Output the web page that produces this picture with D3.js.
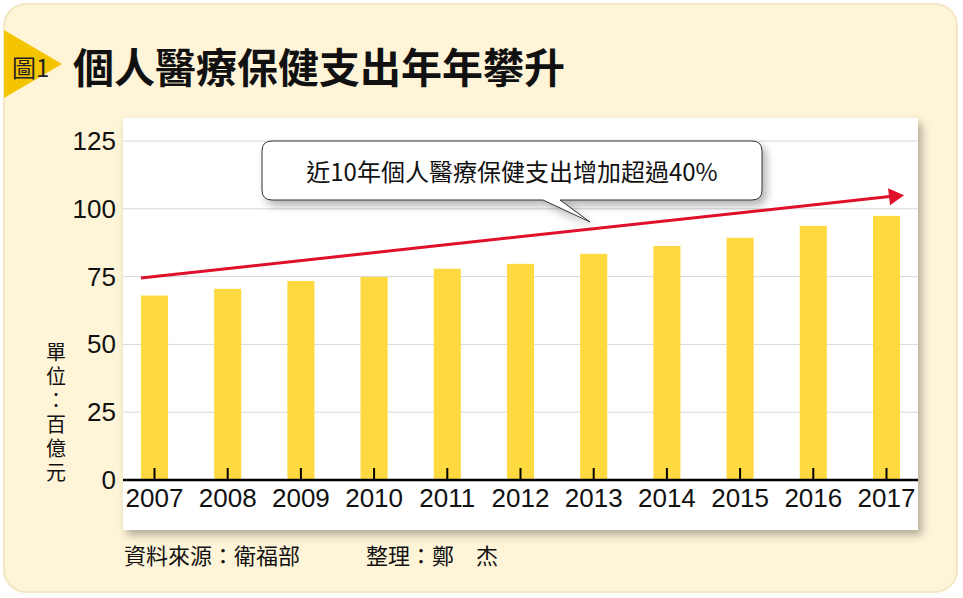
<!DOCTYPE html>
<html><head><meta charset="utf-8">
<script src="https://cdn.jsdelivr.net/npm/d3@7"></script>
<style>body{margin:0;background:#fff}svg{display:block;font-family:"Noto Sans CJK TC",sans-serif}</style>
</head><body>
<script>
var years = ["2007","2008","2009","2010","2011","2012","2013","2014","2015","2016","2017"];
var values = [68, 70.5, 73.4, 74.9, 77.9, 79.7, 83.4, 86.3, 89.3, 93.7, 97.4];
var yTicks = [0, 25, 50, 75, 100, 125];
var trendStart = 74.5, trendEnd = 105;

var svg = d3.select("body").append("svg").attr("width", 963).attr("height", 598);
var defs = svg.append("defs");
var f = defs.append("filter").attr("id", "sh").attr("x", "-10%").attr("y", "-10%").attr("width", "130%").attr("height", "140%");
f.append("feDropShadow").attr("dx", 4).attr("dy", 5).attr("stdDeviation", 4).attr("flood-color", "#000").attr("flood-opacity", 0.3);

svg.append("rect").attr("x", 4).attr("y", 4).attr("width", 953).attr("height", 588).attr("rx", 22)
  .attr("fill", "#fef4d8").attr("stroke", "#f3e6c3").attr("stroke-width", 2);
svg.append("path").attr("d", "M4,30 L62,64 L4,98 Z").attr("fill", "#f5c400");
svg.append("text").attr("x", 12).attr("y", 77).attr("font-size", 24).attr("fill", "#222").text("圖1");
svg.append("text").attr("x", 73).attr("y", 83).attr("font-size", 41).attr("font-weight", "bold").attr("fill", "#111").text("個人醫療保健支出年年攀升");

var plot = {l: 123, t: 118, r: 918, b: 530};
svg.append("rect").attr("x", plot.l).attr("y", plot.t).attr("width", plot.r - plot.l).attr("height", plot.b - plot.t)
  .attr("fill", "#fff").attr("filter", "url(#sh)");

var x = d3.scaleBand().domain(years).range([119, 922]).paddingInner(0.63).paddingOuter(0.3);
var y = d3.scaleLinear().domain([0, 125]).range([480, 141]);

svg.append("g").selectAll("line").data(yTicks.slice(1)).join("line")
  .attr("x1", plot.l).attr("x2", plot.r).attr("y1", d => y(d)).attr("y2", d => y(d))
  .attr("stroke", "#d8d8d8").attr("stroke-width", 1);

svg.append("g").selectAll("text").data(yTicks).join("text")
  .attr("x", 116).attr("y", d => y(d) + 9).attr("text-anchor", "end")
  .attr("font-size", 26).attr("font-family", "Liberation Sans Narrow, sans-serif").attr("fill", "#111").text(d => d);

svg.append("g").selectAll("rect").data(values).join("rect")
  .attr("x", (d, i) => x(years[i])).attr("width", x.bandwidth())
  .attr("y", d => y(d)).attr("height", d => y(0) - y(d)).attr("fill", "#fed940");

var xAxis = svg.append("g").attr("transform", "translate(0," + y(0) + ")")
  .call(d3.axisBottom(x).tickSizeInner(-12).tickSizeOuter(0).tickPadding(22));
xAxis.select(".domain").attr("d", "M" + plot.l + ",0H" + plot.r).attr("stroke", "#000").attr("stroke-width", 2.5);
xAxis.selectAll(".tick line").attr("stroke", "#000").attr("stroke-width", 2);
xAxis.selectAll(".tick text").attr("font-size", 26).attr("font-family", "Liberation Sans Narrow, sans-serif").attr("fill", "#111").attr("dy", "0.2em");

var ax0 = x(years[0]), ax1 = x(years[10]) + x.bandwidth() + 2;
svg.append("line").attr("x1", ax0).attr("y1", y(trendStart)).attr("x2", ax1 - 10).attr("y2", y(trendEnd) + 1.1)
  .attr("stroke", "#e0102a").attr("stroke-width", 3);
svg.append("path").attr("d", "M" + (ax1 - 14) + "," + (y(trendEnd) - 7) + " L" + (ax1 + 2) + "," + y(trendEnd) + " L" + (ax1 - 12) + "," + (y(trendEnd) + 10) + " Z")
  .attr("fill", "#e0102a");

svg.append("path").attr("d", "M272,141 H752 Q762,141 762,151 V190 Q762,200 752,200 H560 L590,222 L543,200 H272 Q262,200 262,190 V151 Q262,141 272,141 Z")
  .attr("fill", "#fff").attr("stroke", "#333").attr("stroke-width", 1).attr("filter", "url(#sh)");
svg.append("text").attr("x", 512).attr("y", 181).attr("text-anchor", "middle").attr("font-size", 24).attr("fill", "#111")
  .text("近10年個人醫療保健支出增加超過40%");

svg.append("g").selectAll("text").data("單位：百億元".split("")).join("text")
  .attr("x", 56).attr("y", (d, i) => 360 + i * 24).attr("text-anchor", "middle").attr("font-size", 20).attr("fill", "#111").text(d => d);

svg.append("text").attr("x", 124).attr("y", 564).attr("font-size", 22).attr("fill", "#111").text("資料來源：衛福部");
svg.append("text").attr("x", 366).attr("y", 564).attr("font-size", 22).attr("fill", "#111").text("整理：鄭　杰");
</script>
</body></html>
